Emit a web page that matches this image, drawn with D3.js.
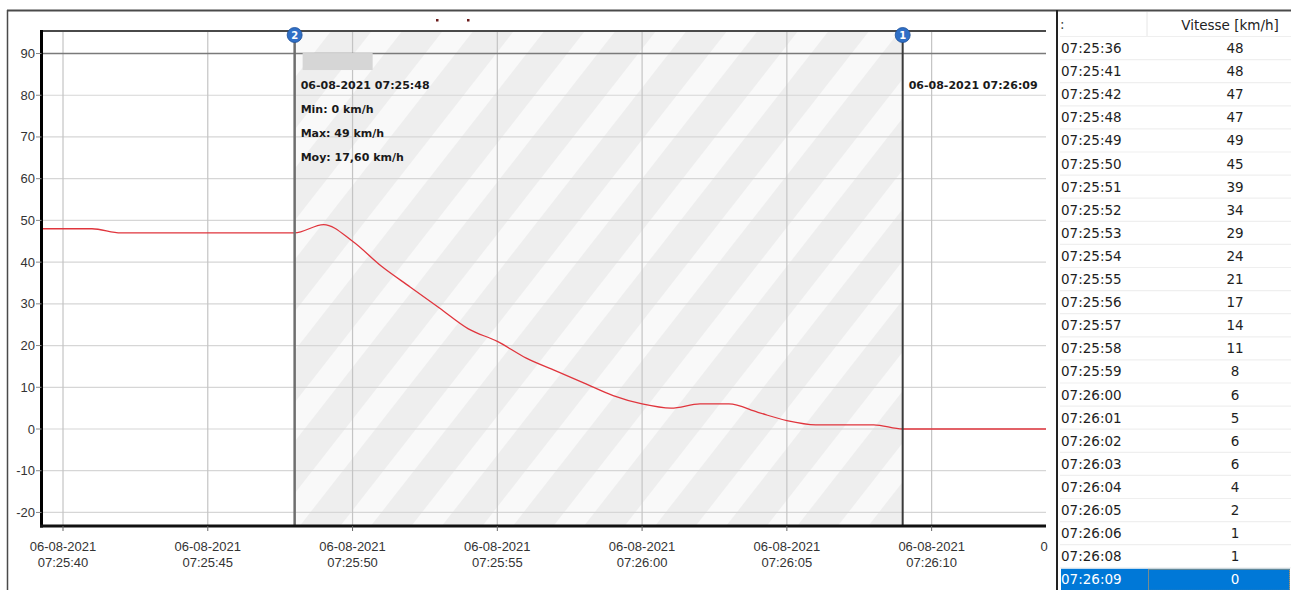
<!DOCTYPE html>
<html>
<head>
<meta charset="utf-8">
<script src="https://cdn.jsdelivr.net/npm/d3@7"></script>
<style>
  html, body { margin: 0; padding: 0; background: #ffffff; }
  svg { display: block; }
</style>
</head>
<body>
<svg id="chart" width="1291" height="590"></svg>
<script>
// ---------- DATA ----------
const dateStr = "06-08-2021";
const times = ["07:25:36","07:25:41","07:25:42","07:25:48","07:25:49","07:25:50","07:25:51","07:25:52",
  "07:25:53","07:25:54","07:25:55","07:25:56","07:25:57","07:25:58","07:25:59","07:26:00",
  "07:26:01","07:26:02","07:26:03","07:26:04","07:26:05","07:26:06","07:26:08","07:26:09"];
const speeds = [48,48,47,47,49,45,39,34,29,24,21,17,14,11,8,6,5,6,6,4,2,1,1,0];
const yTicks = [-20,-10,0,10,20,30,40,50,60,70,80,90];
const xDomain = ["07:25:39.257","07:26:13.950"];
const yDomain = [-23.25, 95.4];
const cursorTimes = ["07:25:48","07:26:09"];   // cursor 2 (left), cursor 1 (right)
const cursorIds = ["2","1"];
const statsLines = ["06-08-2021 07:25:48","Min: 0 km/h","Max: 49 km/h","Moy: 17,60 km/h"];
const rightLabel = "06-08-2021 07:26:09";
const tableHeader = "Vitesse [km/h]";
const limitValue = 90;

// ---------- SETUP ----------
const parse = d3.timeParse("%d-%m-%Y %H:%M:%S");
const parseMs = d3.timeParse("%d-%m-%Y %H:%M:%S.%L");
const svg = d3.select("#chart");
const plot = {left: 41.5, right: 1046, top: 31, bottom: 526};

const x = d3.scaleTime()
  .domain(xDomain.map(t => parseMs(dateStr + " " + t)))
  .range([plot.left, plot.right]);
const y = d3.scaleLinear().domain(yDomain).range([plot.bottom, plot.top]);

const data = times.map((t, i) => ({t: parse(dateStr + " " + t), v: speeds[i]}));
const lineData = data.concat([{t: x.domain()[1], v: speeds[speeds.length - 1]}]);

const defs = svg.append("defs");
defs.append("clipPath").attr("id", "plotClip").append("rect")
  .attr("x", plot.left).attr("y", plot.top)
  .attr("width", plot.right - plot.left).attr("height", plot.bottom - plot.top);

const pat = defs.append("pattern").attr("id", "stripes")
  .attr("patternUnits", "userSpaceOnUse")
  .attr("width", 56).attr("height", 56)
  .attr("patternTransform", "rotate(38)");
pat.append("rect").attr("width", 56).attr("height", 56).attr("fill", "#f9f9f9");
pat.append("rect").attr("width", 32).attr("height", 56).attr("fill", "#eeeeee");

// ---------- OUTER FRAME ----------
svg.append("line").attr("x1", 7).attr("x2", 1291).attr("y1", 10.5).attr("y2", 10.5)
  .attr("stroke", "#4a4a4a").attr("stroke-width", 2);
svg.append("line").attr("x1", 7.5).attr("x2", 7.5).attr("y1", 10).attr("y2", 590)
  .attr("stroke", "#4a4a4a").attr("stroke-width", 1.5);

// small red marks at top
[437, 468].forEach(px => {
  svg.append("rect").attr("x", px - 1).attr("y", 19).attr("width", 2.5).attr("height", 2.5)
    .attr("fill", "#6a1a1a");
});

// ---------- SHADED SELECTION ----------
const cx = cursorTimes.map(t => x(parse(dateStr + " " + t)));
svg.append("rect")
  .attr("x", cx[0]).attr("y", plot.top)
  .attr("width", cx[1] - cx[0]).attr("height", plot.bottom - plot.top)
  .attr("fill", "url(#stripes)");

// ---------- GRID ----------
const xTicks = x.ticks(d3.timeSecond.every(5));
svg.append("g").selectAll("line").data(yTicks.filter(v => v !== limitValue)).join("line")
  .attr("x1", plot.left).attr("x2", plot.right)
  .attr("y1", d => y(d)).attr("y2", d => y(d))
  .attr("stroke", "#d6d6d6").attr("stroke-width", 1.2);
svg.append("g").selectAll("line").data(xTicks).join("line")
  .attr("x1", d => x(d)).attr("x2", d => x(d))
  .attr("y1", plot.top).attr("y2", plot.bottom)
  .attr("stroke", "#c4c4c4").attr("stroke-width", 1.2);

// limit line at 90
svg.append("line").attr("x1", plot.left).attr("x2", plot.right)
  .attr("y1", y(limitValue)).attr("y2", y(limitValue))
  .attr("stroke", "#7a7a7a").attr("stroke-width", 1.6);

// top border of plot
svg.append("line").attr("x1", plot.left).attr("x2", plot.right)
  .attr("y1", plot.top).attr("y2", plot.top)
  .attr("stroke", "#4a4a4a").attr("stroke-width", 2);

// ---------- DATA LINE ----------
const line = d3.line().x(d => x(d.t)).y(d => y(d.v)).curve(d3.curveMonotoneX);
svg.append("path").datum(lineData)
  .attr("clip-path", "url(#plotClip)")
  .attr("d", line).attr("fill", "none")
  .attr("stroke", "#e0353d").attr("stroke-width", 1.3);

// ---------- CURSORS ----------
svg.append("line").attr("x1", cx[0]).attr("x2", cx[0]).attr("y1", plot.top).attr("y2", plot.bottom)
  .attr("stroke", "#6e6e6e").attr("stroke-width", 2.5);
svg.append("line").attr("x1", cx[1]).attr("x2", cx[1]).attr("y1", plot.top).attr("y2", plot.bottom)
  .attr("stroke", "#3a3a3a").attr("stroke-width", 2);

// annotation box (grey placeholder)
svg.append("rect").attr("x", cx[0] + 8).attr("y", y(limitValue) - 0.5)
  .attr("width", 70).attr("height", 17).attr("fill", "#d6d6d6");

const annot = svg.append("g").attr("font-family", "DejaVu Sans, sans-serif")
  .attr("font-weight", "bold").attr("font-size", 11).attr("fill", "#1a1a1a");
annot.selectAll("text").data(statsLines).join("text")
  .attr("x", cx[0] + 6).attr("y", (d, i) => 89 + i * 24).text(d => d);
annot.append("text").attr("x", cx[1] + 6).attr("y", 89).text(rightLabel);

cx.forEach((px, i) => {
  svg.append("circle").attr("cx", px).attr("cy", plot.top + 4).attr("r", 7.5)
    .attr("fill", "#2f6fc6").attr("stroke", "#1d4f98").attr("stroke-width", 0.8);
  svg.append("text").attr("x", px).attr("y", plot.top + 8)
    .attr("text-anchor", "middle").attr("font-family", "DejaVu Sans, sans-serif")
    .attr("font-weight", "bold").attr("font-size", 10).attr("fill", "#ffffff")
    .text(cursorIds[i]);
});

// ---------- AXES ----------
svg.append("line").attr("x1", plot.left).attr("x2", plot.left)
  .attr("y1", plot.top - 1).attr("y2", plot.bottom + 1.5)
  .attr("stroke", "#000").attr("stroke-width", 3);
svg.append("line").attr("x1", plot.left - 1.5).attr("x2", plot.right)
  .attr("y1", plot.bottom).attr("y2", plot.bottom)
  .attr("stroke", "#111").attr("stroke-width", 3);

const yAx = svg.append("g").attr("font-family", "Liberation Sans, Arial, sans-serif")
  .attr("font-size", 13).attr("fill", "#333");
yAx.selectAll("line").data(yTicks).join("line")
  .attr("x1", 36).attr("x2", plot.left).attr("y1", d => y(d)).attr("y2", d => y(d))
  .attr("stroke", "#888").attr("stroke-width", 1);
yAx.selectAll("text").data(yTicks).join("text")
  .attr("x", 35).attr("y", d => y(d) + 4.5).attr("text-anchor", "end").text(d => d);

const fmtDate = d3.timeFormat("%d-%m-%Y");
const fmtTime = d3.timeFormat("%H:%M:%S");
const xAx = svg.append("g").attr("font-family", "Liberation Sans, Arial, sans-serif")
  .attr("font-size", 13).attr("fill", "#333").attr("text-anchor", "middle");
xAx.selectAll("line").data(xTicks).join("line")
  .attr("x1", d => x(d)).attr("x2", d => x(d)).attr("y1", plot.bottom).attr("y2", plot.bottom + 5)
  .attr("stroke", "#666").attr("stroke-width", 1);
xAx.selectAll("text.d").data(xTicks).join("text").attr("class", "d")
  .attr("x", d => x(d)).attr("y", 551).text(d => fmtDate(d));
xAx.selectAll("text.t").data(xTicks).join("text").attr("class", "t")
  .attr("x", d => x(d)).attr("y", 567).text(d => fmtTime(d));
xAx.append("text").attr("x", plot.right - 2).attr("y", 551).text("0");

// ---------- TABLE ----------
const tbl = {left: 1057, right: 1291, headTop: 12, rowTop: 36.5, rowH: 23.1, divider: 1147};
const tg = svg.append("g").attr("font-family", "DejaVu Sans, sans-serif").attr("font-size", 13.5);
tg.append("line").attr("x1", tbl.divider).attr("x2", tbl.divider)
  .attr("y1", tbl.headTop).attr("y2", tbl.rowTop)
  .attr("stroke", "#e6e6e6").attr("stroke-width", 1);
tg.append("text").attr("x", 1060).attr("y", 29).attr("fill", "#444").text(":");
tg.append("text").attr("x", 1230).attr("y", 30).attr("text-anchor", "middle")
  .attr("fill", "#222").text(tableHeader);

const last = times.length - 1;
const rows = tg.selectAll("g.row").data(data).join("g").attr("class", "row")
  .attr("transform", (d, i) => `translate(0,${tbl.rowTop + i * tbl.rowH})`);
rows.append("line").attr("x1", 1060).attr("x2", tbl.right).attr("y1", 0).attr("y2", 0)
  .attr("stroke", "#efefef").attr("stroke-width", 1.2);
rows.filter((d, i) => i === last).append("rect")
  .attr("x", 1061).attr("y", 1).attr("width", tbl.right - 1062).attr("height", tbl.rowH)
  .attr("fill", "#0078d7");
rows.filter((d, i) => i === last).append("rect")
  .attr("x", tbl.divider + 1.5).attr("y", 1.5).attr("width", tbl.right - tbl.divider - 3).attr("height", tbl.rowH - 2)
  .attr("fill", "none").attr("stroke", "#f0a040").attr("stroke-width", 1).attr("stroke-dasharray", "1,1");
rows.append("text").attr("x", 1061).attr("y", 16.5)
  .attr("fill", (d, i) => i === last ? "#ffffff" : "#1e1e1e")
  .text((d, i) => times[i]);
rows.append("text").attr("x", 1235).attr("y", 16.5).attr("text-anchor", "middle")
  .attr("fill", (d, i) => i === last ? "#ffffff" : "#1e1e1e")
  .text(d => d.v);

svg.append("line").attr("x1", tbl.left).attr("x2", tbl.left).attr("y1", 10).attr("y2", 590)
  .attr("stroke", "#222").attr("stroke-width", 2);
</script>
</body>
</html>
